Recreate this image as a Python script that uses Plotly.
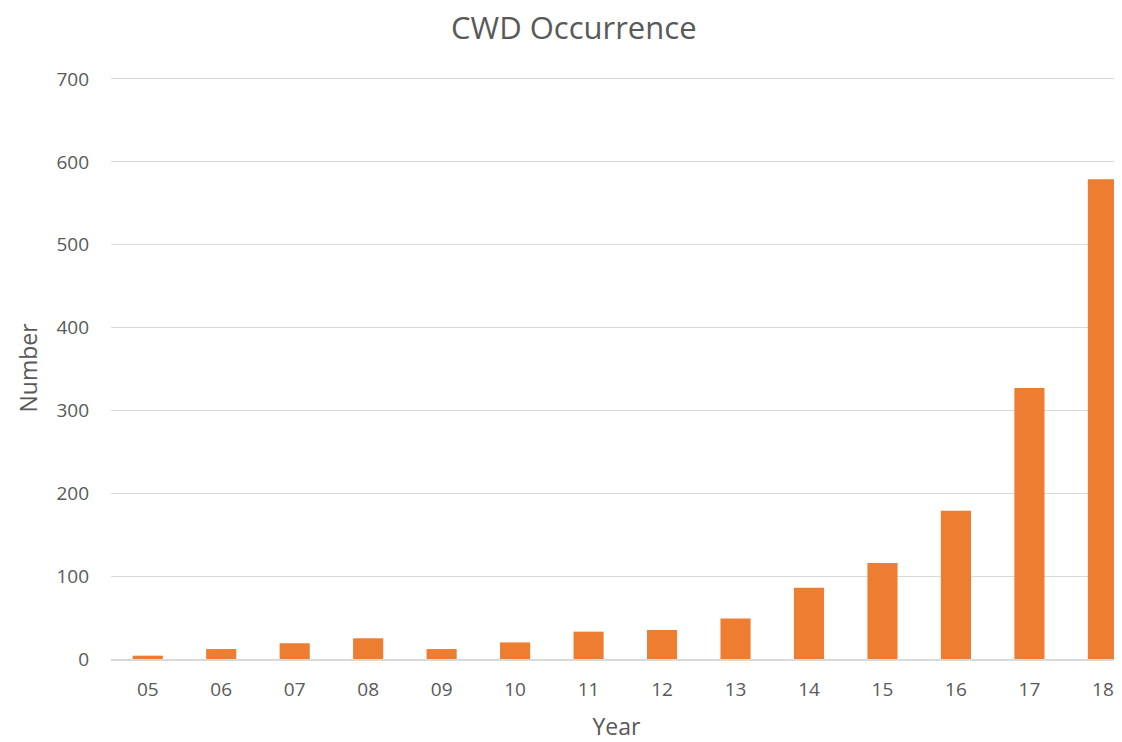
import plotly.graph_objects as go

years = ["05", "06", "07", "08", "09", "10", "11", "12", "13", "14", "15", "16", "17", "18"]
counts = [4, 12, 19, 25, 12, 20, 33, 35, 49, 86, 116, 179, 327, 579]

font_family = "Open Sans, Liberation Sans, sans-serif"
text_color = "#595959"
grid_color = "#d9d9d9"

W, H = 1114, 734  # page has an 8px body margin
L, T, B = 103, 69, 83
plot_w = W - L
plot_h = H - T - B

fig = go.Figure(
    go.Bar(
        x=list(range(len(years))),
        y=counts,
        marker=dict(color="#ed7d31", line=dict(width=0)),
        width=0.41,
    )
)

fig.update_layout(
    width=W,
    height=H,
    margin=dict(l=L, r=0, t=T, b=B),
    paper_bgcolor="white",
    plot_bgcolor="white",
    showlegend=False,
    font=dict(family=font_family, color=text_color),
    annotations=[
        dict(
            text="CWD Occurrence",
            xref="paper",
            yref="paper",
            x=(566 - L) / plot_w,
            y=1 + (T - 19) / plot_h,
            xanchor="center",
            yanchor="middle",
            showarrow=False,
            font=dict(family=font_family, size=31, color=text_color),
        )
    ],
)

fig.update_xaxes(
    tickmode="array",
    tickvals=list(range(len(years))),
    ticktext=years,
    range=[-0.5, 13.26],
    showgrid=False,
    showline=True,
    linecolor=grid_color,
    linewidth=1.5,
    ticks="",
    tickfont=dict(size=19, color=text_color),
    ticklabelstandoff=12,
    title=dict(text="Year", font=dict(size=23, color=text_color), standoff=18),
    zeroline=False,
)

fig.update_yaxes(
    range=[0, 702.4],
    tickvals=[0, 100, 200, 300, 400, 500, 600, 700],
    showgrid=True,
    gridcolor=grid_color,
    gridwidth=1.2,
    zeroline=False,
    showline=False,
    ticks="",
    tickfont=dict(size=19, color=text_color),
    ticklabelstandoff=21,
    title=dict(text="Number", font=dict(size=23, color=text_color), standoff=12),
)

fig.write_html("out.html")
